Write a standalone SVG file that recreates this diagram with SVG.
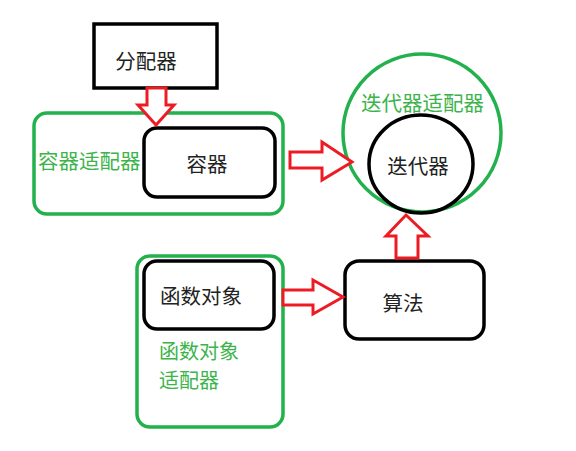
<svg xmlns="http://www.w3.org/2000/svg" width="576" height="451" viewBox="0 0 576 451">
<style>
.blk{fill:#fff;stroke:#000;stroke-width:3.5}
.grn{fill:none;stroke:#22b14c;stroke-width:3.5}
.arr{fill:#fff;stroke:#ed1c24;stroke-width:3;stroke-linejoin:miter}
text{font-family:"Noto Sans CJK SC","Noto Sans",sans-serif;font-size:20.5px;dominant-baseline:central}
.t{fill:#222}
.g{fill:#3cb44b}
.s{font-size:20px}
</style>
<rect width="576" height="451" fill="#fff"/>
<g id="container-adapter">
<rect class="grn" x="34" y="113" width="249" height="101" rx="13"/>
<text class="g" x="38" y="160">容器适配器</text>
</g>
<g id="funcobj-adapter">
<rect class="grn" x="137" y="256" width="146" height="171" rx="13"/>
<text class="g s" x="159" y="350">函数对象</text>
<text class="g s" x="159" y="379">适配器</text>
</g>
<g id="iterator-adapter">
<circle class="grn" cx="422" cy="133" r="79"/>
<text class="g" x="361" y="102">迭代器适配器</text>
</g>
<g id="allocator">
<rect class="blk" x="94" y="24" width="123" height="64"/>
<text class="t" x="146" y="60" text-anchor="middle">分配器</text>
</g>
<g id="container">
<rect class="blk" x="144" y="128" width="131" height="69" rx="13"/>
<text class="t" x="207" y="163" text-anchor="middle">容器</text>
</g>
<g id="iterator">
<ellipse fill="none" stroke="#000" stroke-width="3.5" cx="421" cy="164" rx="52" ry="49"/>
<text class="t" x="418" y="165" text-anchor="middle">迭代器</text>
</g>
<g id="funcobj">
<rect class="blk" x="144" y="261" width="130" height="68" rx="13"/>
<text class="t" x="160" y="295">函数对象</text>
</g>
<g id="algorithm">
<rect class="blk" x="345" y="261" width="139" height="78" rx="14"/>
<text class="t" x="403" y="302" text-anchor="middle">算法</text>
</g>
<g id="connectors">
<polygon class="arr" points="147,88 166,88 166,105 174,105 156,125 138,105 147,105"/>
<polygon class="arr" points="290,152 322,152 322,142 352,162 322,180 322,168 290,168"/>
<polygon class="arr" points="283,290 313,290 313,280 343,297 313,314 313,305 283,305"/>
<polygon class="arr" points="396,258 396,236 386,236 406,215 428,236 418,236 418,258"/>
</g>
</svg>
